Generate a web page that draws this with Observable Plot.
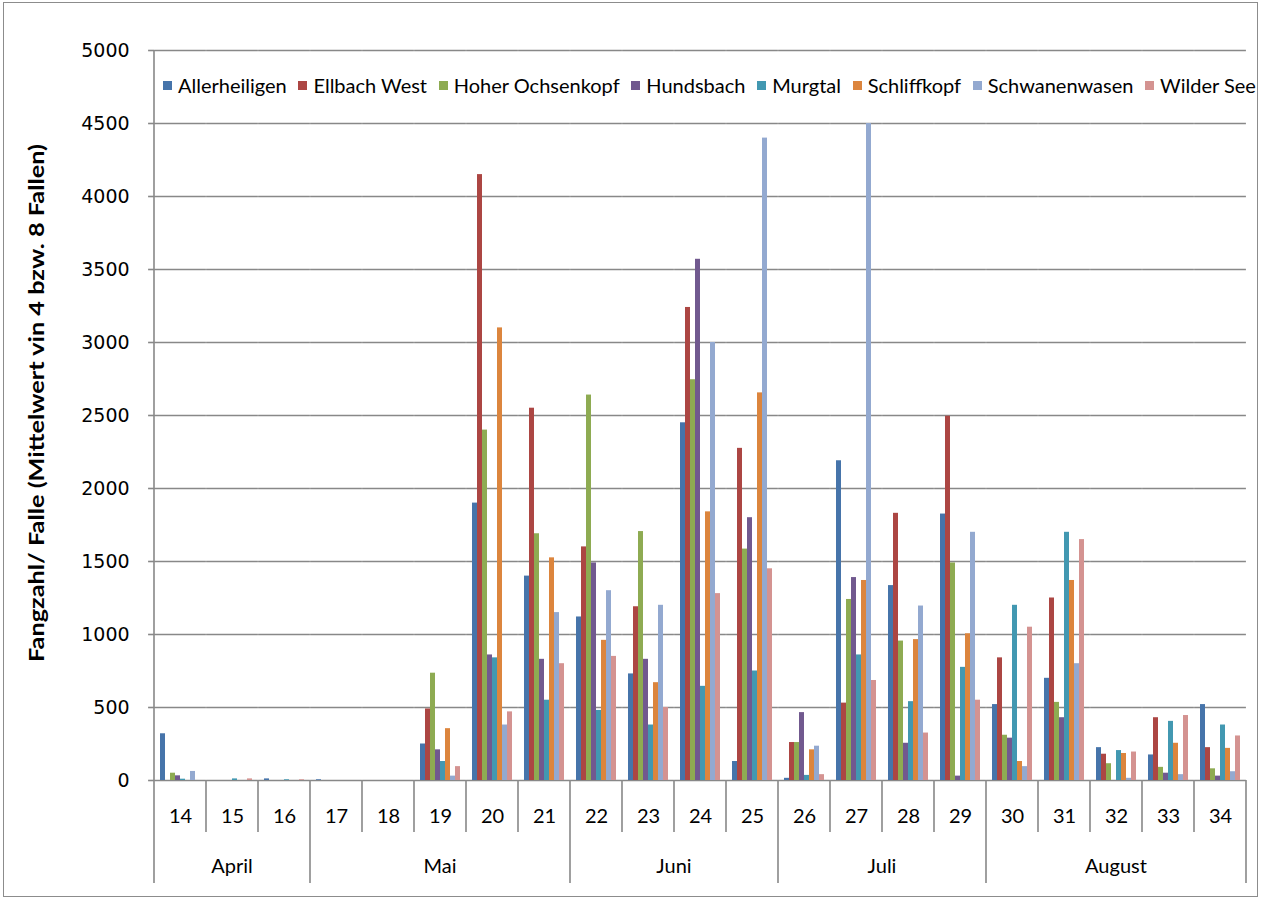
<!DOCTYPE html>
<html>
<head>
<meta charset="utf-8">
<script src="https://cdn.jsdelivr.net/npm/d3@7"></script>
<script src="https://cdn.jsdelivr.net/npm/@observablehq/plot@0.6"></script>
<style>
  body { margin: 0; background: #fff; }
  #wrap { position: relative; width: 1262px; height: 899px; overflow: hidden; background: #fff; }
  #border { position: absolute; left: 3px; top: 2px; width: 1253px; height: 893px; border: 1px solid #8c8c8c; pointer-events: none; }
  #legend { position: absolute; left: 163px; width: 1093px; top: 73px; display: flex; justify-content: space-between; font-family: Lato, "Open Sans", sans-serif; font-size: 20px; color: #000; white-space: nowrap; }
  #legend .item { display: flex; align-items: center; }
  #legend .sw { width: 9px; height: 9px; margin-right: 6px; }
</style>
</head>
<body>
<div id="wrap">
  <div id="chart"></div>
  <div id="legend"></div>
  <div id="border"></div>
</div>
<script>
const weeks = ["14","15","16","17","18","19","20","21","22","23","24","25","26","27","28","29","30","31","32","33","34"];
const weekMonth = ["April","April","April","Mai","Mai","Mai","Mai","Mai","Juni","Juni","Juni","Juni","Juli","Juli","Juli","Juli","August","August","August","August","August"];
const seriesNames = ["Allerheiligen","Ellbach West","Hoher Ochsenkopf","Hundsbach","Murgtal","Schliffkopf","Schwanenwasen","Wilder See"];
const seriesColors = ["#4674AA","#AC4643","#8EAB52","#71598F","#4298B1","#DC853D","#93A9D0","#D49391"];
const yTicks = [0,500,1000,1500,2000,2500,3000,3500,4000,4500,5000];
const yTitle = "Fangzahl/ Falle (Mittelwert vin 4 bzw. 8 Fallen)";

// values per series, weeks 14..34
const allerheiligen   = [320,0,11,5,0,250,1900,1400,1120,730,2450,130,15,2190,1335,1825,520,700,225,175,520];
const ellbachWest     = [0,0,0,0,0,490,4150,2550,1600,1190,3240,2275,260,530,1830,2495,840,1250,180,430,225];
const hoherOchsenkopf = [50,0,0,0,0,735,2400,1690,2640,1705,2745,1585,260,1240,955,1490,310,535,115,90,80];
const hundsbach       = [32,0,0,0,0,210,860,830,1490,830,3570,1800,465,1390,255,30,290,430,0,50,30];
const murgtal         = [9,11,5,0,0,130,840,550,480,380,645,750,35,860,540,775,1200,1700,205,405,380];
const schliffkopf     = [0,0,0,0,0,355,3100,1525,960,670,1840,2655,210,1370,965,1005,130,1370,185,255,220];
const schwanenwasen   = [62,0,0,0,0,30,380,1150,1300,1200,3000,4400,235,4500,1195,1700,95,800,15,40,60];
const wilderSee       = [0,11,5,0,0,95,470,800,850,500,1280,1450,40,685,325,550,1050,1650,195,445,305];

const seriesValues = [allerheiligen, ellbachWest, hoherOchsenkopf, hundsbach, murgtal, schliffkopf, schwanenwasen, wilderSee];

const rows = [];
seriesNames.forEach((s, i) => seriesValues[i].forEach((v, j) => rows.push({week: weeks[j], series: s, value: v})));

const gridColor = "#888888";
const W = 1262, H = 899, mL = 153, mR = 14, mT = 50, mB = 119;
const padInner = 0.15, padOuter = 0.075;
// half of the gap between week groups (band step derived from the layout)
const halfGap = ((W - mL - mR) / weeks.length) * padOuter;

const chart = Plot.plot({
  width: W,
  height: H,
  marginLeft: mL,
  marginRight: mR,
  marginTop: mT,
  marginBottom: mB,
  style: {background: "transparent", fontFamily: "DejaVu Sans", fontSize: "18px", color: "#000"},
  fx: {domain: weeks, paddingInner: padInner, paddingOuter: padOuter, label: null},
  x: {domain: seriesNames, padding: 0, axis: null},
  y: {domain: [0, 5000], label: null},
  color: {domain: seriesNames, range: seriesColors},
  marks: [
    Plot.ruleY(yTicks, {stroke: gridColor, strokeWidth: 1.6, insetLeft: -halfGap, insetRight: -halfGap}),
    Plot.barY(rows, {fx: "week", x: "series", y: "value", fill: "series"}),
    // tick marks only
    Plot.axisY({ticks: yTicks, tickFormat: () => "", tickSize: 6, stroke: gridColor, strokeWidth: 1.6, dx: -halfGap, label: null}),
    // tick labels only
    Plot.axisY({ticks: yTicks, tickFormat: d => String(d), tickSize: 0, tickPadding: 25, fill: "#000", dx: -halfGap, label: null}),
    Plot.axisFx({anchor: "bottom", tickSize: 0, tickPadding: 28, fontSize: 20, fontFamily: "Lato", label: null})
  ]
});

document.getElementById("chart").appendChild(chart);

const svg = d3.select(chart);
// font for value-axis labels
const tickStrings = yTicks.map(String);
svg.selectAll("text")
  .filter(function () { return tickStrings.includes(this.textContent.trim()); })
  .style("font-size", "19px")
  .style("font-family", "'DejaVu Sans'")
  .style("font-weight", "normal")
  .style("stroke", "none")
  .style("fill", "#000");

// Category separators, value axis line and month labels, positioned with Plot's fx / y scales
const fx = chart.scale("fx");
const y = chart.scale("y");
const half = (fx.step - fx.bandwidth) / 2;
const base = y.apply(0);
const n = weeks.length;
const bounds = d3.range(n + 1).map(i => i < n ? fx.apply(weeks[i]) - half : fx.apply(weeks[n - 1]) + fx.bandwidth + half);

const sep = svg.append("g").attr("stroke", gridColor).attr("stroke-width", 1.6);
bounds.forEach((bx, i) => {
  const isMonth = i === 0 || i === n || weekMonth[i] !== weekMonth[i - 1];
  sep.append("line").attr("x1", bx).attr("x2", bx).attr("y1", base).attr("y2", base + (isMonth ? 103 : 52));
});
sep.append("line").attr("x1", bounds[0]).attr("x2", bounds[0]).attr("y1", y.apply(5000)).attr("y2", base);

const months = [];
weekMonth.forEach((m, i) => {
  if (!months.length || months[months.length - 1].name !== m) months.push({name: m, start: i, end: i + 1});
  else months[months.length - 1].end = i + 1;
});
svg.append("g")
  .attr("font-family", "Lato").attr("font-size", 20).attr("text-anchor", "middle").attr("fill", "#000")
  .selectAll("text").data(months).join("text")
  .attr("x", d => (bounds[d.start] + bounds[d.end]) / 2)
  .attr("y", base + 93)
  .text(d => d.name);

// y axis title
const yMid = (y.apply(0) + y.apply(5000)) / 2;
svg.append("text")
  .attr("transform", `translate(44,${yMid - 12}) rotate(-90)`)
  .attr("text-anchor", "middle")
  .attr("font-family", "Lato")
  .attr("font-weight", "bold")
  .attr("font-size", 21)
  .attr("textLength", 518)
  .attr("lengthAdjust", "spacingAndGlyphs")
  .attr("fill", "#000")
  .text(yTitle);

// legend
const legend = d3.select("#legend");
seriesNames.forEach((s, i) => {
  const item = legend.append("div").attr("class", "item");
  item.append("div").attr("class", "sw").style("background", seriesColors[i]);
  item.append("span").text(s);
});
</script>
</body>
</html>
